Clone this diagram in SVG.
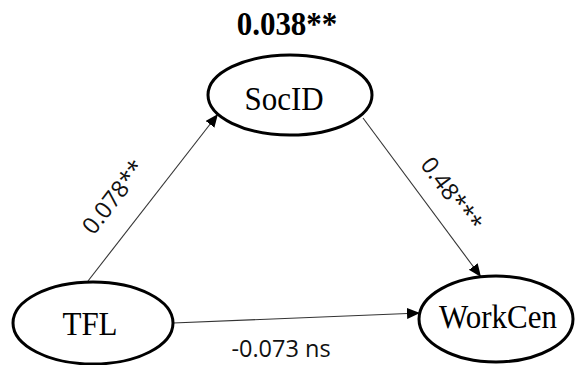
<svg xmlns="http://www.w3.org/2000/svg" width="575" height="365" viewBox="0 0 575 365">
<style>
.node ellipse{fill:#fff;stroke:#000;stroke-width:3}
.node text{font-family:"Liberation Serif","Times New Roman",serif;font-size:31px;fill:#000;text-anchor:middle}
.edge line{stroke:#333;stroke-width:1.1;marker-end:url(#arr)}
.lbl{font-family:"Open Sans","Liberation Sans",sans-serif;font-size:23.5px;fill:#111;text-anchor:middle}
.title{font-family:"Liberation Serif","Times New Roman",serif;font-size:31px;font-weight:bold;fill:#000;text-anchor:middle}
</style>
<defs>
<marker id="arr" markerUnits="userSpaceOnUse" markerWidth="14" markerHeight="12" refX="13" refY="5.5" orient="auto">
<path d="M0,0 L13,5.5 L0,11 z" fill="#000"/>
</marker>
</defs>
<text class="title" transform="translate(287,35) scale(1,1.08)">0.038**</text>
<g id="connectors" class="edge">
<line x1="88" y1="281" x2="218" y2="114"/>
<line x1="363" y1="118" x2="481" y2="277"/>
<line x1="173" y1="323" x2="420" y2="313"/>
</g>
<g id="labels">
<text class="lbl" transform="translate(120,202) rotate(-52.3)">0.078**</text>
<text class="lbl" transform="translate(445,199) rotate(53.3)">0.48***</text>
<text class="lbl" x="281" y="357">-0.073 ns</text>
</g>
<g id="SocID" class="node">
<ellipse cx="290" cy="95" rx="82" ry="40"/>
<text transform="translate(284,110) scale(1,1.1)">SocID</text>
</g>
<g id="TFL" class="node">
<ellipse cx="93" cy="323" rx="80" ry="41"/>
<text transform="translate(90,335) scale(1,1.1)">TFL</text>
</g>
<g id="WorkCen" class="node">
<ellipse cx="496" cy="319" rx="77" ry="43"/>
<text transform="translate(498,328) scale(1,1.1)">WorkCen</text>
</g>
</svg>
